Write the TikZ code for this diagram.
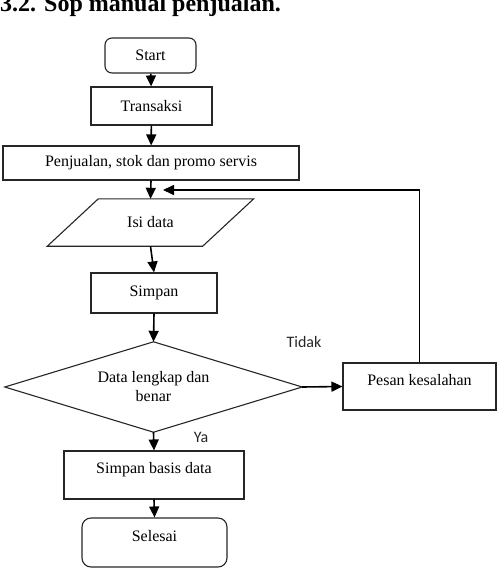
\documentclass[tikz,border=0pt]{standalone}
\usepackage{fontspec}
\setmainfont{Liberation Serif}
\newfontfamily\labelsans{Carlito}
\usetikzlibrary{arrows.meta}
\begin{document}
\begin{tikzpicture}[x=1pt,y=-1pt,
  shapeline/.style={draw=black!85, line width=1.1pt},
  box/.style={shapeline, rectangle, inner sep=0pt, font=\fontsize{16}{19}\selectfont},
  roundbox/.style={box, rounded corners=7pt},
  plain/.style={inner sep=0pt, font=\fontsize{16}{19}\selectfont},
  raised/.style={text depth=14pt},
  arr/.style={draw=black, line width=1.6pt, -{Triangle[length=11pt,width=10pt]}},
  branch/.style={inner sep=0pt, font=\labelsans\fontsize{16}{19}\selectfont, text=black!85}
]
\useasboundingbox (0,0) rectangle (497,571);

\node[anchor=base west, inner sep=0pt, font=\bfseries\fontsize{24}{28}\selectfont] (title) at (0,11) {3.2. Sop manual penjualan.};

\node[roundbox, minimum width=91, minimum height=35] (start) at (150.5,55.5) {Start};
\node[box, minimum width=121, minimum height=38] (trans) at (151.5,106) {Transaksi};
\node[box, minimum width=296, minimum height=34] (pen) at (151,163) {Penjualan, stok dan promo servis};

\node[plain, minimum width=155, minimum height=47] (isi) at (150.5,222.5) {Isi data};
\draw[shapeline] ([xshift=25.5pt]isi.north west) -- ([xshift=25.5pt]isi.north east)
  -- ([xshift=-25.5pt]isi.south east) -- ([xshift=-25.5pt]isi.south west) -- cycle;

\node[box, minimum width=126, minimum height=40] (simpan) at (154,293) {Simpan};

\node[plain, minimum width=297, minimum height=90, align=center] (dec) at (153.5,387) {Data lengkap dan\\benar};
\draw[shapeline] (dec.north) -- (dec.east) -- (dec.south) -- (dec.west) -- cycle;

\node[box, raised, minimum width=153, minimum height=47] (pesan) at (419.5,386.5) {Pesan kesalahan};
\node[box, raised, minimum width=180, minimum height=48] (sbd) at (154,475) {Simpan basis data};
\node[roundbox, raised, minimum width=145, minimum height=49, rounded corners=9pt] (selesai) at (154.5,542.5) {Selesai};

\node[branch] (tidak) at (304,342) {Tidak};
\node[branch] (ya) at (201,437) {Ya};

\coordinate (fb) at (163,190);

\draw[arr] (start) -- (trans);
\draw[arr] (trans) -- (pen);
\draw[arr] (pen.south) -- (isi.north);
\draw[arr] (isi.south) -- (simpan.north);
\draw[arr] (simpan.south) -- (dec.north);
\draw[arr] (dec.east) -- (pesan.west);
\draw[arr] (pesan.north) |- (fb);
\draw[arr] (dec.south) -- (sbd.north);
\draw[arr] (sbd.south) -- (selesai.north);
\end{tikzpicture}
\end{document}
